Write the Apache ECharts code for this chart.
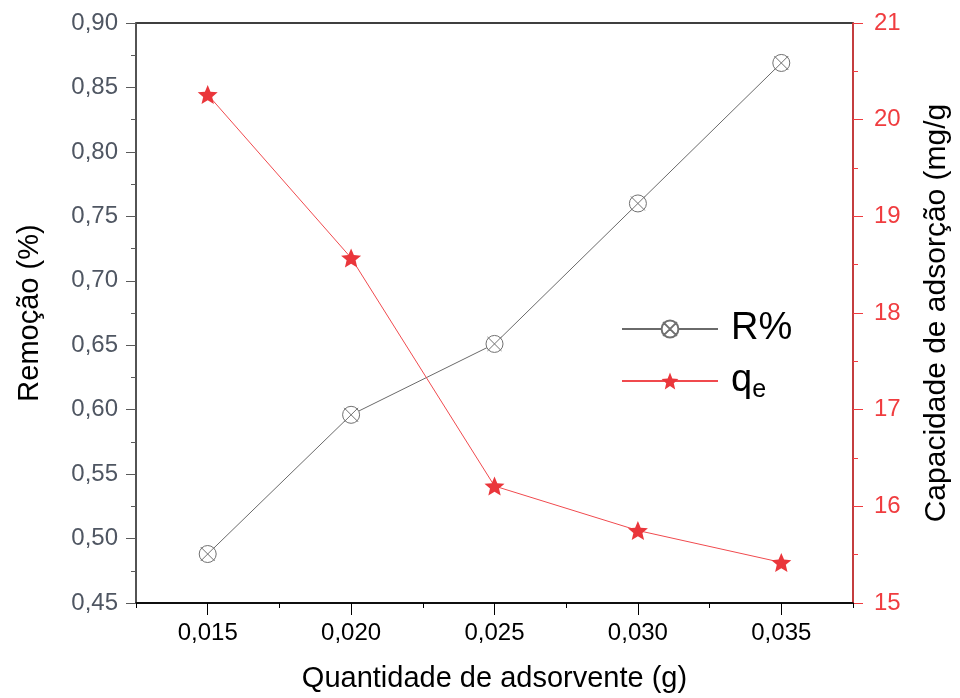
<!DOCTYPE html>
<html>
<head>
<meta charset="utf-8">
<script src="https://cdn.jsdelivr.net/npm/echarts@6/dist/echarts.min.js"></script>
<style>
  html, body { margin: 0; padding: 0; background: #fff; }
  #chart { width: 960px; height: 698px; }
</style>
</head>
<body>
<div id="chart"></div>
<script>
// dados
var quantidade = [0.015, 0.020, 0.025, 0.030, 0.035];
var remocao = [0.488, 0.596, 0.651, 0.760, 0.869];
var capacidade = [20.26, 18.57, 16.21, 15.75, 15.42];
var xTicks = [0.015, 0.020, 0.025, 0.030, 0.035];

var gray = '#5a5a5a';
var red = '#f03c3f';

// símbolos do Origin: círculo com X e estrela
var circleX = 'path://M0,10 A10,10 0 1,1 20,10 A10,10 0 1,1 0,10 Z M1.8,1.8 L18.2,18.2 M18.2,1.8 L1.8,18.2';
var star = 'path://M10,0 L12.65,6.36 L19.51,6.91 L14.28,11.39 L15.88,18.09 L10,14.5 L4.12,18.09 L5.72,11.39 L0.49,6.91 L7.35,6.36 Z';

function virgula(v, d) {
  return v.toFixed(d).replace('.', ',');
}

var chart = echarts.init(document.getElementById('chart'));

var option = {
  animation: false,
  textStyle: { fontFamily: 'Liberation Sans, Arial, sans-serif' },
  grid: {
    left: 136, right: 103, top: 23, bottom: 93,
    show: true, borderColor: '#000', borderWidth: 1.5
  },
  legend: {
    orient: 'vertical',
    left: 616,
    top: 303,
    itemWidth: 96,
    itemHeight: 21,
    itemGap: 10,
    data: ['R%', 'qe'],
    formatter: function (name) {
      return name === 'qe' ? '{q|q}{e|e}' : name;
    },
    textStyle: {
      fontSize: 38,
      color: '#000',
      lineHeight: 42,
      padding: [0, 0, 0, 8],
      rich: {
        q: { fontSize: 38, color: '#000' },
        e: { fontSize: 25, color: '#000', padding: [18, 0, 0, 0] }
      }
    }
  },
  xAxis: [
    {
      type: 'value',
      position: 'bottom',
      min: 0.0125, max: 0.0375, interval: 0.0025,
      axisLine: { show: true, lineStyle: { color: '#000', width: 1.5 } },
      axisTick: { show: true, length: 5, lineStyle: { color: '#000' } },
      axisLabel: {
        customValues: xTicks,
        formatter: function (v) { return virgula(v, 3); },
        fontSize: 24, color: '#000', margin: 18
      },
      splitLine: { show: false },
      name: 'Quantidade de adsorvente (g)',
      nameLocation: 'middle',
      nameGap: 61,
      nameTextStyle: { fontSize: 29, color: '#000' }
    },
    {
      // eixo auxiliar só para os ticks maiores embaixo
      type: 'value',
      position: 'top',
      offset: -582,
      min: 0.0125, max: 0.0375,
      axisLine: { show: false },
      axisTick: { show: true, inside: true, length: 10, customValues: xTicks, lineStyle: { color: '#000' } },
      axisLabel: { show: false },
      splitLine: { show: false }
    }
  ],
  yAxis: [
    {
      type: 'value',
      position: 'left',
      min: 0.45, max: 0.90, interval: 0.05,
      axisLine: { show: true, lineStyle: { color: gray, width: 1.5 } },
      axisTick: { show: true, length: 10, lineStyle: { color: gray } },
      minorTick: { show: true, splitNumber: 2, length: 5, lineStyle: { color: gray } },
      axisLabel: {
        formatter: function (v) { return virgula(v, 2); },
        fontSize: 24, color: '#4f5662', margin: 18
      },
      splitLine: { show: false },
      name: 'Remoção (%)',
      nameLocation: 'middle',
      nameGap: 92,
      nameTextStyle: { fontSize: 29, color: '#000' }
    },
    {
      type: 'value',
      position: 'right',
      min: 15, max: 21, interval: 1,
      axisLine: { show: true, lineStyle: { color: red, width: 1.5 } },
      axisTick: { show: true, length: 10, lineStyle: { color: red } },
      minorTick: { show: true, splitNumber: 2, length: 5, lineStyle: { color: red } },
      axisLabel: { fontSize: 24, color: red, margin: 21 },
      splitLine: { show: false },
      name: 'Capacidade de adsorção (mg/g',
      nameLocation: 'middle',
      nameRotate: 90,
      nameGap: 69,
      nameTextStyle: { fontSize: 30, color: '#000' }
    }
  ],
  series: [
    {
      name: 'R%',
      type: 'line',
      xAxisIndex: 0,
      yAxisIndex: 0,
      data: quantidade.map(function (x, i) { return [x, remocao[i]]; }),
      symbol: circleX,
      symbolSize: 17,
      symbolKeepAspect: true,
      lineStyle: { color: '#6a6a6a', width: 1 },
      itemStyle: { color: '#fff', borderColor: '#707070', borderWidth: 1 }
    },
    {
      name: 'qe',
      type: 'line',
      xAxisIndex: 0,
      yAxisIndex: 1,
      data: quantidade.map(function (x, i) { return [x, capacidade[i]]; }),
      symbol: star,
      symbolSize: 20,
      symbolKeepAspect: true,
      lineStyle: { color: '#f04a4e', width: 1 },
      itemStyle: { color: '#ea363b' }
    }
  ]
};

chart.setOption(option);
</script>
</body>
</html>
